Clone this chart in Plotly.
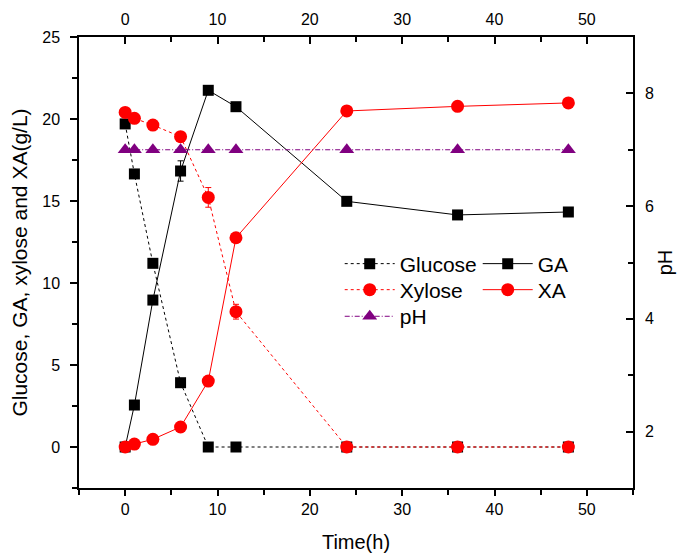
import plotly.graph_objects as go

time_h = [0, 1, 3, 6, 9, 12, 24, 36, 48]
glucose = [19.7, 16.65, 11.2, 3.92, 0, 0, 0, 0, 0]
glucose_err = [0.15, 0.1, 0.1, 0.15, 0, 0, 0, 0, 0]
ga = [0, 2.56, 8.96, 16.83, 21.75, 20.75, 14.98, 14.15, 14.33]
ga_err = [0, 0.1, 0.1, 0.62, 0.15, 0.25, 0.1, 0.1, 0.2]
xylose = [20.4, 20.04, 19.63, 18.92, 15.22, 8.25, 0, 0, 0]
xylose_err = [0.1, 0.1, 0.1, 0.15, 0.6, 0.45, 0, 0, 0]
xa = [0, 0.18, 0.47, 1.22, 4.02, 12.76, 20.49, 20.77, 20.98]
xa_err = [0, 0.05, 0.05, 0.1, 0.1, 0.1, 0.15, 0.1, 0.1]
ph = [7.0, 7.0, 7.0, 7.0, 7.0, 7.0, 7.0, 7.0, 7.0]

x_ticks = [0, 10, 20, 30, 40, 50]
y_ticks = [0, 5, 10, 15, 20, 25]
ph_ticks = [2, 4, 6, 8]

FONT = "Liberation Sans, Arial, sans-serif"
BLACK = "#000000"
RED = "#FF0000"
PURPLE = "#800080"

fig = go.Figure()

def add(name, y, err, color, symbol, size, dash, legend):
    fig.add_trace(go.Scatter(
        x=time_h, y=y, name=name, mode="lines+markers",
        line=dict(color=color, width=1, dash=dash),
        marker=dict(color=color, symbol=symbol, size=size, line=dict(width=0)),
        error_y=dict(type="data", array=err, visible=True, color=color,
                     thickness=1, width=3),
        legend=legend,
    ))

add("Glucose", glucose, glucose_err, BLACK, "square", 11, "3px,3px", "legend")
add("GA", ga, ga_err, BLACK, "square", 11, "solid", "legend")
add("Xylose", xylose, xylose_err, RED, "circle", 13, "3px,3px", "legend2")
add("XA", xa, xa_err, RED, "circle", 13, "solid", "legend2")

fig.add_trace(go.Scatter(
    x=time_h, y=ph, name="pH", mode="lines+markers",
    xaxis="x2", yaxis="y2",
    line=dict(color=PURPLE, width=1, dash="5px,2px,1px,2px"),
    marker=dict(color=PURPLE, symbol="triangle-up", size=13, line=dict(width=0)),
    legend="legend3",
))

axis_common = dict(
    showline=True, linecolor=BLACK, linewidth=1.5, showgrid=False,
    zeroline=False, tickwidth=1.5, tickcolor=BLACK,
    tickfont=dict(family=FONT, size=16, color=BLACK),
    automargin=False,
)

leg_common = dict(
    orientation="h", bgcolor="rgba(0,0,0,0)", borderwidth=0,
    font=dict(family=FONT, size=21, color=BLACK),
    xanchor="left", yanchor="middle", entrywidth=73, entrywidthmode="pixels",
    itemwidth=50, tracegroupgap=0,
)

fig.update_layout(
    width=678, height=551,
    margin=dict(l=71, r=53, t=29, b=71),
    paper_bgcolor="white", plot_bgcolor="white",
    font=dict(family=FONT, color=BLACK),
    xaxis=dict(
        range=[-5, 55], tickvals=x_ticks, ticks="outside", ticklen=6,
        minor=dict(dtick=5, tick0=0, ticks="outside", ticklen=5, tickwidth=1.5, tickcolor=BLACK),
        title=dict(text="Time(h)", font=dict(family=FONT, size=20), standoff=18),
        ticklabelstandoff=0,
        **axis_common,
    ),
    xaxis2=dict(
        range=[-5, 55], tickvals=x_ticks, ticks="inside", side="top", ticklen=7,
        overlaying="x", anchor="y",
        minor=dict(dtick=5, tick0=0, ticks="inside", ticklen=5, tickwidth=1.5, tickcolor=BLACK),
        ticklabelstandoff=4,
        **axis_common,
    ),
    yaxis=dict(
        range=[-2.5, 25], tickvals=y_ticks, ticks="outside", ticklen=7,
        minor=dict(dtick=2.5, tick0=0, ticks="outside", ticklen=5, tickwidth=1.5, tickcolor=BLACK),
        title=dict(text="Glucose, GA, xylose and XA(g/L)", font=dict(family=FONT, size=21), standoff=12),
        ticklabelstandoff=7,
        **axis_common,
    ),
    yaxis2=dict(
        range=[1, 9], tickvals=ph_ticks, ticks="inside", side="right", ticklen=7,
        overlaying="y", anchor="x2",
        minor=dict(dtick=1, tick0=0, ticks="inside", ticklen=5, tickwidth=1.5, tickcolor=BLACK),
        title=dict(text="pH", font=dict(family=FONT, size=20), standoff=5),
        ticklabelstandoff=7,
        **axis_common,
    ),
    legend=dict(x=0.4706, y=0.4967, **leg_common),
    legend2=dict(x=0.4706, y=0.439, **leg_common),
    legend3=dict(x=0.4706, y=0.380, **leg_common),
    showlegend=True,
)

fig.write_html("out.html")
